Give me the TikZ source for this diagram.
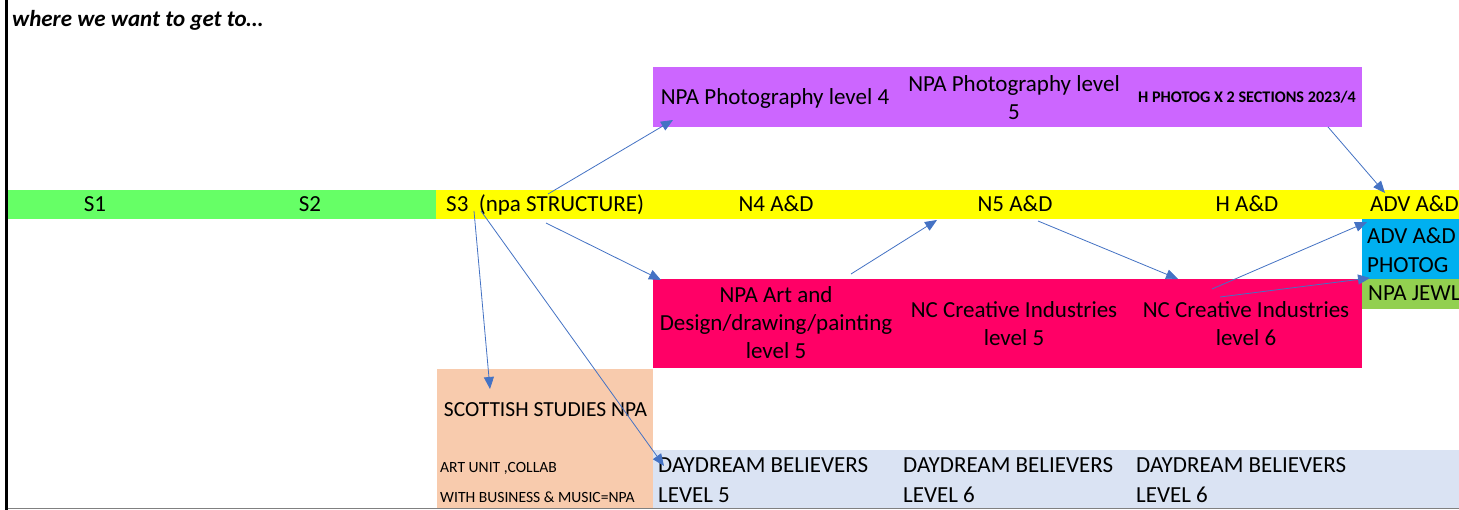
\documentclass[tikz,border=0pt]{standalone}
\usepackage{fontspec}
\setmainfont{Carlito}
\usetikzlibrary{arrows.meta}
\definecolor{barGreen}{HTML}{66FF66}
\definecolor{barYellow}{HTML}{FFFF00}
\definecolor{photoPurple}{HTML}{CC66FF}
\definecolor{ncPink}{HTML}{FF0066}
\definecolor{advBlue}{HTML}{00B0F0}
\definecolor{jewlGreen}{HTML}{92D050}
\definecolor{scotPeach}{HTML}{F8CBAD}
\definecolor{dreamLilac}{HTML}{DAE3F3}
\definecolor{linkBlue}{HTML}{4472C4}

\begin{document}
\begin{tikzpicture}[x=1pt,y=-1pt]
\tikzstyle{every node}+=[inner sep=0pt]
\tikzstyle{big}=[font=\fontsize{23}{28}\selectfont, align=center]
\tikzstyle{bigleft}=[font=\fontsize{23}{29.5}\selectfont, align=left]
\tikzstyle{small}=[font=\fontsize{15.6}{18}\selectfont]
\tikzstyle{link}=[draw=linkBlue, line width=0.8pt, -{Triangle[width=10pt,length=12pt]}]
\useasboundingbox (0,0) rectangle (1459,510);
\fill [white] (0,0) rectangle (1459,510);
\fill [barGreen] (8,190) rectangle (436,219);
\fill [barYellow] (436,190) rectangle (1459,219);
\fill [photoPurple] (653,67) rectangle (1362,127);
\fill [advBlue] (1362,219) rectangle (1459,279);
\fill [ncPink] (653,279) rectangle (1362,368);
\fill [jewlGreen] (1362,279) rectangle (1459,309);
\fill [scotPeach] (437,369) rectangle (653,508);
\fill [dreamLilac] (653,450) rectangle (1459,508);
\draw [gray, line width=1.5pt] (6,508.5) -- (1459,508.5);
\draw [black, line width=3pt] (6,0) -- (6,510);
\node (title) [anchor=base west, font=\fontsize{23}{27}\selectfont\bfseries\itshape] at (12,27) {where we want to get to…};
\node (s1) [big, anchor=base] at (95,212) {S1};
\node (s2) [big, anchor=base] at (310,212) {S2};
\node (s3) [big, anchor=base west] at (446,212) {S3\ \ (npa STRUCTURE)};
\node (n4) [big, anchor=base] at (776,212) {N4 A\&D};
\node (n5) [big, anchor=base] at (1015,212) {N5 A\&D};
\node (higher) [big, anchor=base] at (1247,212) {H A\&D};
\node (adv) [big, anchor=base west] at (1370,212) {ADV A\&D};
\node (photo4) [big, anchor=base] at (775,105) {NPA Photography level 4};
\node (photo5) [big] at (1014,98) {NPA Photography level\\5};
\node (hphotog) [anchor=base, font=\fontsize{16.2}{19}\selectfont\bfseries] at (1247,103) {H PHOTOG X 2 SECTIONS 2023/4};
\node (npaart) [big] at (776,323) {NPA Art and\\Design/drawing/painting\\level 5};
\node (nc5) [big] at (1014,324) {NC Creative Industries\\level 5};
\node (nc6) [big] at (1246,324) {NC Creative Industries\\level 6};
\node (advphotog) [bigleft, anchor=west] at (1367,250) {ADV A\&D\\PHOTOG};
\node (jewl) [big, anchor=base west] at (1368,301) {NPA JEWL};
\node (scot) [font=\fontsize{21.5}{26}\selectfont, anchor=base] at (545.5,417) {SCOTTISH STUDIES NPA};
\node (artunit) [small, anchor=base west] at (440,472) {ART UNIT ,COLLAB};
\node (business) [small, anchor=base west] at (440,502) {WITH BUSINESS \& MUSIC=NPA};
\node (dream5) [bigleft, anchor=base west] at (658,472) {DAYDREAM BELIEVERS};
\node (dream5b) [bigleft, anchor=base west] at (658,502) {LEVEL 5};
\node (dream6) [bigleft, anchor=base west] at (903,472) {DAYDREAM BELIEVERS};
\node (dream6b) [bigleft, anchor=base west] at (903,502) {LEVEL 6};
\node (dream7) [bigleft, anchor=base west] at (1136,472) {DAYDREAM BELIEVERS};
\node (dream7b) [bigleft, anchor=base west] at (1136,502) {LEVEL 6};
\coordinate (s3up) at (548,194);
\coordinate (s3down) at (546,223);
\coordinate (s3left) at (474,211);
\coordinate (s3mid) at (481,211);
\coordinate (photo4in) at (673,120);
\coordinate (hphotogout) at (1328,127);
\coordinate (advin) at (1385,193);
\coordinate (npaartin) at (661,280);
\coordinate (scotin) at (490,389);
\coordinate (dreamin) at (664,466);
\coordinate (npaartout) at (851,274);
\coordinate (n5in) at (937,220);
\coordinate (n5out) at (1038,221);
\coordinate (nc6in) at (1178,279);
\coordinate (nc6up) at (1212,289);
\coordinate (nc6right) at (1220,297);
\coordinate (advphotogin) at (1367,222);
\coordinate (jewlin) at (1370,278);
\draw [link] (s3up) -- (photo4in);
\draw [link] (hphotogout) -- (advin);
\draw [link] (s3down) -- (npaartin);
\draw [link] (s3left) -- (scotin);
\draw [link] (s3mid) -- (dreamin);
\draw [link] (npaartout) -- (n5in);
\draw [link] (n5out) -- (nc6in);
\draw [link] (nc6up) -- (advphotogin);
\draw [link] (nc6right) -- (jewlin);
\end{tikzpicture}
\end{document}
